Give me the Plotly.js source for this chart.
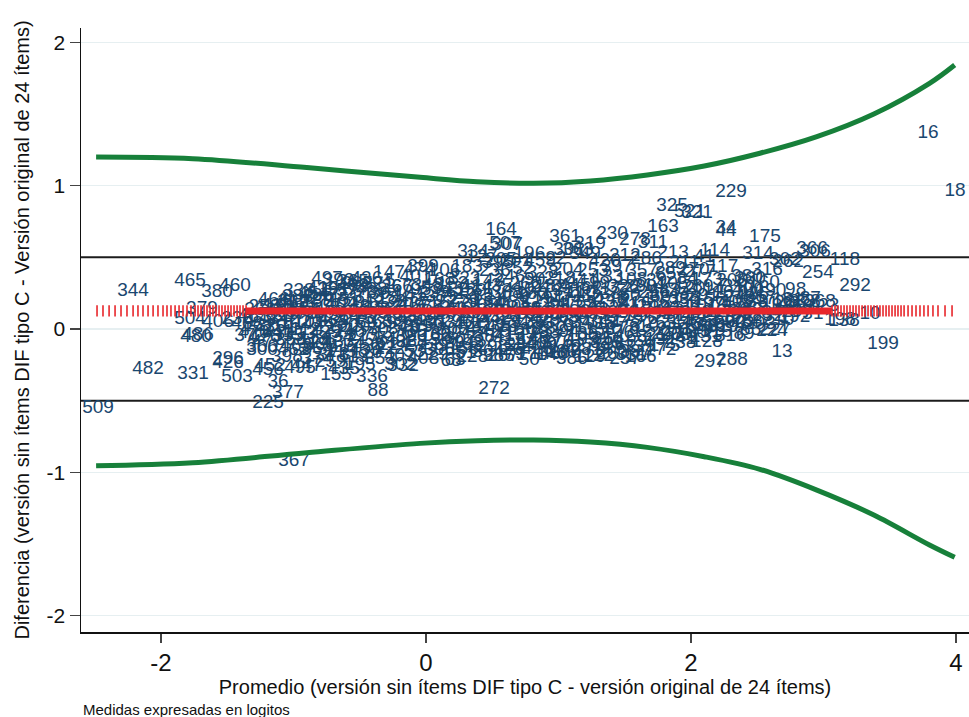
<!DOCTYPE html>
<html>
<head>
<meta charset="utf-8">
<script src="https://cdn.plot.ly/plotly-3.0.1.min.js"></script>
<style>html,body{margin:0;padding:0;background:#fff;}#chart{width:969px;height:717px;}</style>
</head>
<body>
<div id="chart"></div>
<script>
// ---- Point labels (observation id), average (x) and difference (y), in logits ----
const labels = [
"16","18","229","325","521","321","163","34","44","175","230","361","164","507","307","278","319","363","311","334",
"205","395","459","399","314","366","306","302","262","118","254","316","292","10","198","138","199","13","224","227",
"114","213","117","289","277","380","360","400","96","105","288","378","368","269","330","390","75","297","288","257",
"129","260","146","140","79","267","272","68","63","88","336","155","353","302","332","367","225","377","36","482",
"331","503","509","344","465","380","460","497","365","265","391","486","312","415","261","379","504","406","480","486",
"236","372","296","426","300","366","452","456","495",
"127","201","22","349","420","212","286","211","41","196","301",
"147","474","106","183","236","52","328","204","253","397","357","85","270",
"393","436","5","401","168","323","142","246","90","218","441","133","108","39","284","173","206","160",
"338","415","57","428","266","95","343","189","17","410","248","311","62","177","290","443","120","14","310","190","98",
"466","383","27","451","313","184","72","389","251","131","403","219","47","362","148","274","66","335","156","24","317","181","87",
"258","405","111","322","49","387","209","78","346","165","440","29","295","137","412","81","242","371","101","3","263","194","58","123",
"481","350","178","419","64","299","152","384","20","245","432","116","280","55","359","171","9","327","144","271","83","232","192","31",
"468","320","102","444","200","59","392","161","303","46","418","134","285","76","340","187","8","255","126","318","92","203",
"470","341","113","429","240","71","376","157","309","42","425","139","283","94","352","176","12","247","130","315","89",
"477","358","124","433","217","61","388","150","294","37","411","145","276","103","345","169","19","238","128",
"462","364","115","439","222","53","396","158","304","26","423","136","281","97","337","172",
"374","119","408","228","50","386","166",
"398","447","259","435","195",
"409","221","67","348","153","414","35","268","182","445","99","326","214","105","289","7",
"454","73","273","394","141","239","422","32","308","180","417","110","333","60","256","43","291","167","226",
"469","185","404","91","233","437","15","279","154","461","121","347","69","237","416","86","252","197","402","33","143",
"475","354","109","430","216","65","381","149","293","40","421","132","282","93","339","174","11","249","125","313","84","207",
"479","342","107","431","215","63","385","151","296","44","424","135","287","80","342","179","6","244","122","312","88","210",
"472","351","112","427","220","70","378","159","305","45","426","138","282","91","353","178","10","250","129","319","85",
"476","355","118","434","223","74","390","162","307","38","413","146","277","100","356","168","21","241","131","316",
"463","369","117","438","224","54","397","163","298","28","409","140","275","96","339","175",
"373","120","407","229","51","385","170","260","122","331"
];
const avgVals = [
3.789,3.992,2.302,1.857,1.992,2.045,1.789,2.264,2.264,2.558,1.404,1.049,0.566,0.596,0.611,1.577,1.238,1.147,1.713,0.355,
0.566,0.543,0.860,-0.023,2.506,2.913,2.936,2.709,2.732,3.162,2.958,2.574,3.238,3.351,3.125,3.155,3.449,2.687,2.611,2.634,
2.181,1.864,2.242,1.842,2.068,2.423,2.445,2.430,2.483,2.347,2.747,2.860,2.974,1.887,2.091,2.294,2.392,2.143,2.309,1.502,
1.238,1.404,0.898,0.951,0.672,0.581,0.513,0.189,0.219,-0.362,-0.408,-0.679,-0.347,-0.196,-0.174,-0.996,-1.192,-1.042,-1.117,-2.098,
-1.758,-1.426,-2.475,-2.211,-1.781,-1.577,-1.442,-0.747,-0.551,-0.521,-0.702,-0.823,-1.004,-1.125,-1.253,-1.691,-1.781,-1.570,-1.736,-1.721,
-1.426,-1.328,-1.494,-1.494,-1.238,-1.238,-1.177,-1.192,-0.951,
0.42,0.68,0.98,1.20,1.35,1.50,1.66,1.95,2.10,0.78,1.08,
-0.28,-0.05,0.14,0.31,0.52,0.73,0.88,1.07,1.26,1.44,1.63,1.81,2.02,
-0.66,-0.45,-0.27,-0.08,0.10,0.29,0.47,0.63,0.82,1.01,1.18,1.37,1.55,1.74,1.93,2.12,2.31,2.55,
-0.96,-0.78,-0.60,-0.41,-0.22,-0.04,0.16,0.34,0.51,0.70,0.90,1.07,1.25,1.43,1.62,1.80,1.99,2.17,2.36,2.60,2.79,
-1.15,-0.97,-0.80,-0.62,-0.44,-0.25,-0.07,0.11,0.29,0.47,0.66,0.84,1.03,1.21,1.40,1.58,1.77,1.95,2.14,2.33,2.52,2.73,2.90,
-1.22,-1.04,-0.86,-0.68,-0.50,-0.31,-0.13,0.05,0.23,0.42,0.60,0.79,0.97,1.15,1.34,1.52,1.71,1.89,2.08,2.27,2.46,2.65,2.84,3.00,
-1.30,-1.12,-0.94,-0.76,-0.58,-0.40,-0.21,-0.03,0.15,0.34,0.52,0.71,0.89,1.08,1.26,1.45,1.63,1.82,2.00,2.19,2.38,2.58,2.78,2.92,
-1.35,-1.17,-0.99,-0.81,-0.63,-0.45,-0.26,-0.08,0.10,0.29,0.47,0.66,0.84,1.03,1.21,1.40,1.58,1.77,1.95,2.14,2.33,2.52,
-1.30,-1.12,-0.94,-0.76,-0.58,-0.40,-0.21,-0.03,0.15,0.34,0.52,0.71,0.89,1.08,1.26,1.45,1.63,1.82,2.00,2.19,2.40,
-1.20,-1.02,-0.84,-0.66,-0.48,-0.30,-0.11,0.07,0.25,0.44,0.62,0.81,0.99,1.18,1.36,1.55,1.73,1.92,2.12,
-1.00,-0.82,-0.64,-0.46,-0.27,-0.09,0.10,0.28,0.47,0.65,0.84,1.02,1.21,1.39,1.58,1.77,
-0.82,-0.55,-0.02,0.35,0.78,1.10,1.62,
-1.05,-0.90,-0.72,-0.62,-0.50,
-0.55,-0.36,-0.18,0.01,0.20,0.38,0.57,0.75,0.94,1.12,1.31,1.49,1.68,1.86,2.05,2.24,
-0.85,-0.67,-0.49,-0.31,-0.12,0.06,0.25,0.43,0.61,0.80,0.98,1.17,1.35,1.54,1.72,1.91,2.09,2.28,2.47,
-1.00,-0.82,-0.64,-0.46,-0.27,-0.09,0.10,0.28,0.47,0.65,0.84,1.02,1.21,1.39,1.58,1.76,1.95,2.13,2.32,2.50,2.70,
-1.10,-0.92,-0.73,-0.55,-0.36,-0.18,0.01,0.19,0.38,0.56,0.75,0.93,1.12,1.30,1.49,1.67,1.86,2.04,2.23,2.42,2.61,2.80,
-1.25,-1.07,-0.88,-0.70,-0.51,-0.33,-0.14,0.04,0.23,0.41,0.60,0.78,0.97,1.15,1.34,1.52,1.71,1.89,2.08,2.27,2.46,2.66,
-1.28,-1.10,-0.91,-0.73,-0.54,-0.36,-0.17,0.01,0.20,0.38,0.57,0.75,0.94,1.12,1.31,1.49,1.68,1.86,2.05,2.24,2.45,
-1.22,-1.04,-0.85,-0.67,-0.48,-0.30,-0.11,0.07,0.26,0.44,0.63,0.81,1.00,1.18,1.37,1.55,1.74,1.92,2.11,2.30,
-0.98,-0.80,-0.61,-0.43,-0.24,-0.06,0.13,0.31,0.50,0.68,0.87,1.05,1.24,1.42,1.61,1.80,
-0.70,-0.45,-0.20,0.05,0.30,0.55,0.80,1.05,1.30,1.55
];
const diffVals = [
1.368,0.963,0.956,0.858,0.816,0.809,0.712,0.705,0.684,0.642,0.663,0.642,0.691,0.593,0.586,0.621,0.593,0.551,0.600,0.537,
0.481,0.461,0.475,0.433,0.523,0.558,0.537,0.481,0.468,0.481,0.391,0.412,0.300,0.105,0.063,0.056,-0.105,-0.161,-0.014,-0.007,
0.544,0.530,0.433,0.419,0.398,0.363,0.349,0.272,0.223,0.188,0.181,0.188,0.188,-0.042,0.021,0.042,0.049,-0.230,-0.216,-0.209,
-0.195,-0.174,-0.174,-0.181,-0.174,-0.188,-0.419,-0.223,-0.216,-0.433,-0.335,-0.321,-0.209,-0.251,-0.258,-0.921,-0.516,-0.447,-0.370,-0.279,
-0.314,-0.335,-0.551,0.265,0.335,0.258,0.300,0.349,0.328,0.314,0.272,0.230,0.188,0.160,0.133,0.140,0.070,0.049,-0.056,-0.042,
0.070,-0.049,-0.209,-0.237,-0.147,-0.126,-0.258,-0.286,-0.272,
0.50,0.47,0.49,0.52,0.47,0.51,0.49,0.46,0.50,0.52,0.55,
0.39,0.41,0.40,0.43,0.40,0.42,0.39,0.41,0.40,0.43,0.40,0.38,0.41,
0.33,0.35,0.33,0.36,0.34,0.35,0.33,0.36,0.34,0.35,0.33,0.36,0.34,0.33,0.35,0.34,0.33,0.32,
0.26,0.28,0.26,0.27,0.29,0.27,0.28,0.26,0.28,0.27,0.29,0.26,0.28,0.27,0.29,0.26,0.28,0.27,0.29,0.26,0.27,
0.20,0.22,0.21,0.20,0.22,0.21,0.20,0.22,0.21,0.20,0.22,0.21,0.20,0.22,0.21,0.20,0.22,0.21,0.20,0.22,0.21,0.20,0.21,
0.15,0.16,0.14,0.16,0.15,0.14,0.16,0.15,0.14,0.16,0.15,0.14,0.16,0.15,0.14,0.16,0.15,0.14,0.16,0.15,0.14,0.16,0.15,0.16,
0.09,0.08,0.10,0.09,0.08,0.10,0.09,0.08,0.10,0.09,0.08,0.10,0.09,0.08,0.10,0.09,0.08,0.10,0.09,0.08,0.10,0.09,0.08,0.10,
0.03,0.02,0.04,0.03,0.02,0.04,0.03,0.02,0.04,0.03,0.02,0.04,0.03,0.02,0.04,0.03,0.02,0.04,0.03,0.02,0.04,0.03,
-0.03,-0.02,-0.04,-0.03,-0.02,-0.04,-0.03,-0.02,-0.04,-0.03,-0.02,-0.04,-0.03,-0.02,-0.04,-0.03,-0.02,-0.04,-0.03,-0.02,-0.04,
-0.09,-0.08,-0.10,-0.09,-0.08,-0.10,-0.09,-0.08,-0.10,-0.09,-0.08,-0.10,-0.09,-0.08,-0.10,-0.09,-0.08,-0.10,-0.09,
-0.15,-0.14,-0.16,-0.15,-0.14,-0.16,-0.15,-0.14,-0.16,-0.15,-0.14,-0.16,-0.15,-0.14,-0.16,-0.15,
-0.21,-0.20,-0.21,-0.20,-0.22,-0.21,-0.20,
-0.20,-0.26,-0.23,-0.28,-0.25,
0.30,0.31,0.29,0.30,0.31,0.29,0.30,0.31,0.29,0.30,0.31,0.29,0.30,0.31,0.29,0.30,
0.24,0.23,0.25,0.24,0.23,0.25,0.24,0.23,0.25,0.24,0.23,0.25,0.24,0.23,0.25,0.24,0.23,0.25,0.24,
0.18,0.19,0.17,0.18,0.19,0.17,0.18,0.19,0.17,0.18,0.19,0.17,0.18,0.19,0.17,0.18,0.19,0.17,0.18,0.19,0.17,
0.12,0.13,0.11,0.12,0.13,0.11,0.12,0.13,0.11,0.12,0.13,0.11,0.12,0.13,0.11,0.12,0.13,0.11,0.12,0.13,0.11,0.12,
0.06,0.07,0.05,0.06,0.07,0.05,0.06,0.07,0.05,0.06,0.07,0.05,0.06,0.07,0.05,0.06,0.07,0.05,0.06,0.07,0.05,0.06,
0.00,0.01,-0.01,0.00,0.01,-0.01,0.00,0.01,-0.01,0.00,0.01,-0.01,0.00,0.01,-0.01,0.00,0.01,-0.01,0.00,0.01,-0.01,
-0.06,-0.05,-0.07,-0.06,-0.05,-0.07,-0.06,-0.05,-0.07,-0.06,-0.05,-0.07,-0.06,-0.05,-0.07,-0.06,-0.05,-0.07,-0.06,-0.05,
-0.12,-0.11,-0.13,-0.12,-0.11,-0.13,-0.12,-0.11,-0.13,-0.12,-0.11,-0.13,-0.12,-0.11,-0.13,-0.12,
-0.18,-0.17,-0.19,-0.18,-0.17,-0.19,-0.18,-0.17,-0.19,-0.18
];

// ---- Mean difference and its markers ----
const meanDiff = 0.126;
const meanTickX = [
-2.483,-2.438,-2.392,-2.347,-2.302,-2.257,-2.211,-2.174,-2.136,-2.098,-2.060,-2.023,-1.985,-1.955,-1.925,-1.894,-1.864,-1.834,-1.804,-1.774,
-1.743,-1.721,-1.698,-1.675,-1.653,-1.630,-1.608,-1.585,-1.562,-1.540,-1.517,-1.494,-1.472,-1.449,-1.426,-1.404,-1.381,-1.358,
3.064,3.087,3.109,3.132,3.155,3.177,3.200,3.223,3.245,3.268,3.291,3.313,3.336,3.358,3.381,3.404,3.426,3.449,3.472,3.494,
3.517,3.540,3.562,3.585,3.608,3.638,3.668,3.698,3.728,3.758,3.789,3.826,3.864,3.917,3.970
];
const meanSpanX = [-1.36, 3.06];

// ---- Limits of agreement (regression-based) ----
const limitX = [-2.49,-1.76,-0.90,-0.045,0.385,0.81,1.24,1.67,2.10,2.52,2.95,3.38,3.80,3.99];
const upperLimit = [1.200,1.188,1.126,1.058,1.028,1.017,1.033,1.075,1.137,1.226,1.342,1.500,1.714,1.842];
const lowerLimit = [-0.954,-0.933,-0.863,-0.798,-0.779,-0.775,-0.789,-0.826,-0.891,-0.979,-1.124,-1.298,-1.507,-1.593];

// ---- Reference lines and ticks ----
const refLines = [0.5, 0, -0.5];
const xTickVals = [-2, 0, 2, 4];
const xTickText = ["-2", "0", "2", "4"];
const yTickVals = [-2, -1, 0, 1, 2];
const yTickText = ["-2", "-1", "0", "1", "2"];

const FONT = "Liberation Sans, Arial, Helvetica, sans-serif";
const navy = "#1a476f";
const red = "#e8262b";
const green = "#17803a";

const traces = [
  {
    type: "scatter", mode: "text", x: avgVals, y: diffVals, text: labels,
    textposition: "middle center",
    textfont: {family: FONT, size: 19, color: navy},
    hoverinfo: "skip", showlegend: false, cliponaxis: true
  },
  {
    type: "scatter", mode: "lines", x: meanSpanX, y: meanSpanX.map(() => meanDiff),
    line: {color: red, width: 7}, hoverinfo: "skip", showlegend: false
  },
  {
    type: "scatter", mode: "markers", x: meanTickX, y: meanTickX.map(() => meanDiff),
    marker: {symbol: "line-ns", size: 8, line: {color: red, width: 1.6}},
    hoverinfo: "skip", showlegend: false
  },
  {
    type: "scatter", mode: "lines", x: limitX, y: upperLimit,
    line: {color: green, width: 5, shape: "spline"}, hoverinfo: "skip", showlegend: false
  },
  {
    type: "scatter", mode: "lines", x: limitX, y: lowerLimit,
    line: {color: green, width: 5, shape: "spline"}, hoverinfo: "skip", showlegend: false
  }
];

const layout = {
  width: 969, height: 717,
  margin: {l: 81, r: 0, t: 28, b: 85},
  paper_bgcolor: "#ffffff", plot_bgcolor: "#ffffff",
  showlegend: false,
  font: {family: FONT, color: "#111"},
  xaxis: {
    range: [-2.604, 4.098], tickmode: "array", tickvals: xTickVals, ticktext: xTickText,
    ticks: "outside", ticklen: 9, tickwidth: 1.5, tickcolor: "#444",
    showline: true, linecolor: "#111", linewidth: 1.5, showgrid: false, zeroline: false,
    tickfont: {family: FONT, size: 24, color: "#111"},
    title: {text: "Promedio (versión sin ítems DIF tipo C - versión original de 24 ítems)",
            font: {family: FONT, size: 20, color: "#111"}, standoff: 4}
  },
  yaxis: {
    range: [-2.114, 2.100], tickmode: "array", tickvals: yTickVals, ticktext: yTickText,
    ticks: "outside", ticklen: 10, tickwidth: 1.5, tickcolor: "#444",
    showline: true, linecolor: "#111", linewidth: 1.5, showgrid: true,
    gridcolor: "#e6eff1", gridwidth: 1.5, zeroline: false,
    tickfont: {family: FONT, size: 21, color: "#111"},
    title: {text: "Diferencia (versión sin ítems DIF tipo C - Versión original de 24 ítems)",
            font: {family: FONT, size: 20, color: "#111"}, standoff: 11}
  },
  shapes: refLines.map(v => ({
    type: "line", xref: "paper", x0: 0, x1: 1, yref: "y", y0: v, y1: v,
    line: {color: "#1c1c1c", width: 2}, layer: "below"
  })),
  annotations: [{
    text: "Medidas expresadas en logitos", xref: "paper", yref: "paper",
    x: 0, y: -0.129, xanchor: "left", yanchor: "middle", showarrow: false,
    font: {family: FONT, size: 15, color: "#111"}
  }]
};

Plotly.newPlot("chart", traces, layout, {displayModeBar: false, staticPlot: true});
</script>
</body>
</html>
